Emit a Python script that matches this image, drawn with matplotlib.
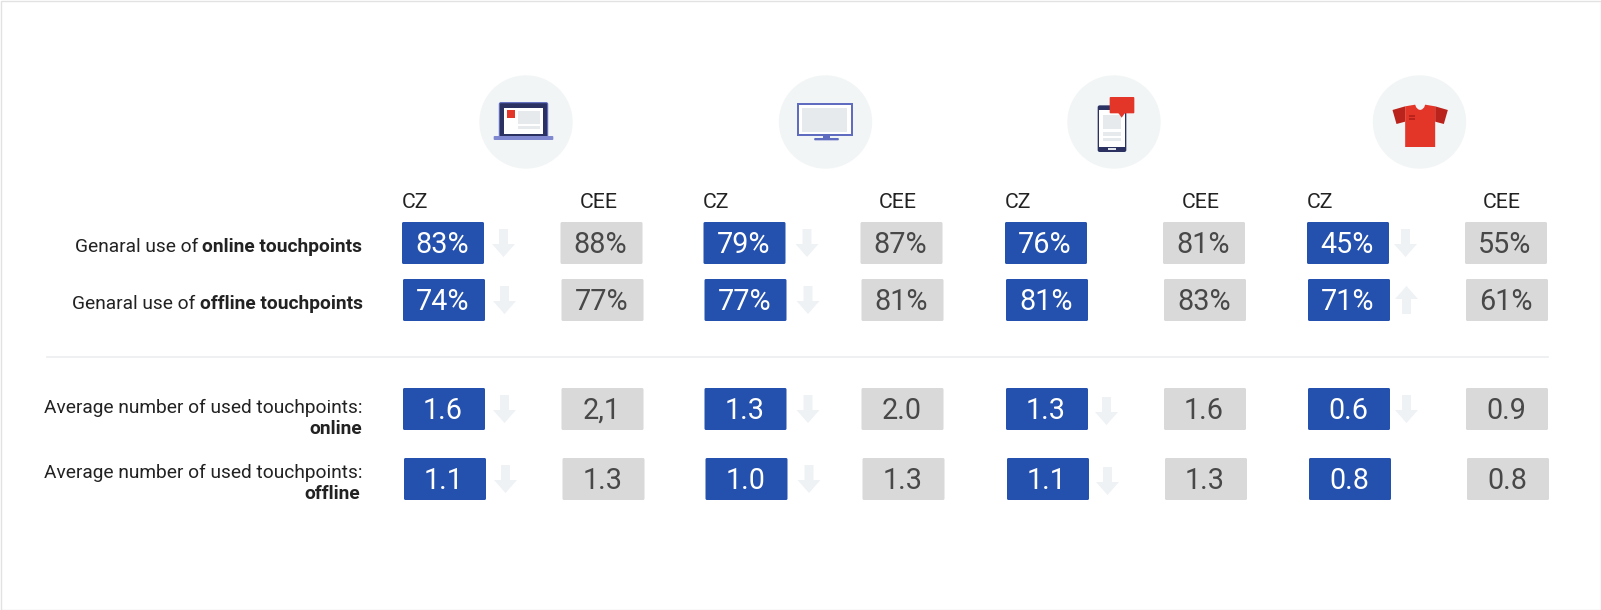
import matplotlib
matplotlib.use("Agg")
import matplotlib.pyplot as plt
from matplotlib.patches import Circle, FancyBboxPatch, Polygon, Rectangle

plt.rcParams['font.family'] = ['Roboto', 'DejaVu Sans']

# ---------- data ----------
groups = ["laptop", "tv", "mobile", "shirt"]
row_prefix = ["Genaral use of ", "Genaral use of ",
              "Average number of used touchpoints:", "Average number of used touchpoints:"]
row_bold = ["online touchpoints", "offline touchpoints", "online", "offline"]
cz_labels = [
    ["83%", "79%", "76%", "45%"],
    ["74%", "77%", "81%", "71%"],
    ["1.6", "1.3", "1.3", "0.6"],
    ["1.1", "1.0", "1.1", "0.8"],
]
cee_labels = [
    ["88%", "87%", "81%", "55%"],
    ["77%", "81%", "83%", "61%"],
    ["2,1", "2.0", "1.6", "0.9"],
    ["1.3", "1.3", "1.3", "0.8"],
]
# trend of CZ against CEE: -1 down, +1 up, 0 none
trend = [
    [-1, -1, 0, -1],
    [-1, -1, 0, 1],
    [-1, -1, -1, -1],
    [-1, -1, -1, 0],
]

# ---------- layout (pixels) ----------
W, H = 1601, 610
BLUE, GREY, ARROW = "#2450ae", "#d9d9d9", "#eef2f5"
NAVY, RED, DRED, LG = "#2b3262", "#e33629", "#b9231c", "#e6eaed"
cz_x = [402, 703.5, 1005, 1307]
cee_x = [560.5, 860.5, 1163, 1465]
cz_head = [402, 703, 1005, 1307]
cee_head = [580, 879, 1182, 1483]
arrow_dx = [90, 92, 89, 87]
row_top = [222, 279, 388, 458]
row_dx = [0, 1, 1, 2]
icon_cx = [526, 825.5, 1114, 1419.5]
ICON_CY = 122
BW, BH = 82, 42

fig = plt.figure(figsize=(W / 100, H / 100), dpi=100)
ax = fig.add_axes([0, 0, 1, 1])
ax.set_xlim(0, W)
ax.set_ylim(H, 0)
ax.axis("off")

ax.add_patch(Rectangle((0.5, 0.5), W - 1, H - 1, fc="white", ec="#e2e2e2", lw=1))
ax.plot([47, 1548], [356.5, 356.5], color="#eceeef", lw=1.2)


def rect(cx, x0, x1, y0, y1, color, ocx, round_=0.0, ec="none"):
    """Rectangle in 3x zoom units around an icon centre."""
    X0, X1 = cx + (x0 - ocx) / 3, cx + (x1 - ocx) / 3
    Y0, Y1 = ICON_CY + (y0 - 186) / 3, ICON_CY + (y1 - 186) / 3
    if round_:
        ax.add_patch(FancyBboxPatch((X0 + round_, Y0 + round_), X1 - X0 - 2 * round_,
                                    Y1 - Y0 - 2 * round_,
                                    boxstyle=f"round,pad={round_},rounding_size={round_}",
                                    fc=color, ec=ec, lw=0.8))
    else:
        ax.add_patch(Rectangle((X0, Y0), X1 - X0, Y1 - Y0, fc=color, ec="none"))


def poly(cx, pts, color, ocx):
    ax.add_patch(Polygon([(cx + (x - ocx) / 3, ICON_CY + (y - 186) / 3) for x, y in pts],
                         closed=True, fc=color, ec="none"))


def laptop(cx):
    o = 258
    rect(cx, 178, 323, 128, 232, NAVY, o, 1.5, ec="#5f6cc0")
    rect(cx, 193, 308, 143, 222, "white", o)
    rect(cx, 201, 225, 151, 173, RED, o)
    rect(cx, 234, 300, 152, 192, LG, o)
    rect(cx, 234, 300, 198, 208, LG, o)
    rect(cx, 161, 340, 228, 240, "#8088cf", o, 1)


def tv(cx):
    o = 1156
    rect(cx, 1071, 1238, 129, 228, "#5f6cc0", o)
    rect(cx, 1077, 1232, 135, 222, "white", o)
    rect(cx, 1086, 1221, 144, 215, LG, o)
    rect(cx, 1148, 1170, 228, 235, "#5f6cc0", o)
    rect(cx, 1122, 1196, 234, 241, "#5f6cc0", o, 1)


def mobile(cx):
    o = 252
    rect(cx, 203, 289, 136, 276, NAVY, o, 2)
    rect(cx, 207, 285, 151, 260, "white", o)
    rect(cx, 219, 273, 165, 207, LG, o)
    rect(cx, 219, 273, 216, 228, LG, o)
    rect(cx, 219, 273, 233, 243, LG, o)
    rect(cx, 234, 259, 264, 271, "#dfe3ea", o)
    rect(cx, 239, 313, 111, 160, RED, o, 1)
    poly(cx, [(265, 159), (285, 159), (275, 173)], RED, o)


def shirt(cx):
    o = 1168
    poly(cx, [(1087, 150), (1125, 139), (1125, 185), (1099, 192)], DRED, o)
    poly(cx, [(1253, 150), (1215, 139), (1215, 185), (1241, 192)], DRED, o)
    poly(cx, [(1125, 139), (1143, 136), (1155, 134), (1158, 142), (1164, 148), (1170, 150),
              (1176, 148), (1182, 142), (1185, 134), (1197, 136), (1215, 139),
              (1215, 261), (1125, 261)], RED, o)
    rect(cx, 1137, 1153, 165, 170, DRED, o)
    rect(cx, 1137, 1153, 174, 180, DRED, o)


draw_icon = {"laptop": laptop, "tv": tv, "mobile": mobile, "shirt": shirt}
for g, cx in zip(groups, icon_cx):
    ax.add_patch(Circle((cx, ICON_CY), 46.7, fc="#f2f5f6", ec="none"))
    draw_icon[g](cx)


def box(x, y, color):
    ax.add_patch(FancyBboxPatch((x + 1.5, y + 1.5), BW - 3, BH - 3,
                                boxstyle="round,pad=1.5,rounding_size=1.5", fc=color, ec="none"))


def arrow(x, y, up=False):
    # 23 wide, 28 tall
    pts = [(7, 0), (16, 0), (16, 15), (23, 15), (11.5, 28), (0, 15), (7, 15)]
    if up:
        pts = [(px, 28 - py) for px, py in pts]
    ax.add_patch(Polygon([(x + px, y + py) for px, py in pts], closed=True, fc=ARROW, ec="none"))


for c in range(4):
    ax.text(cz_head[c], 207.5, "CZ", fontsize=15.3, color="#222222", ha="left", va="baseline")
    ax.text(cee_head[c], 207.5, "CEE", fontsize=15.3, color="#222222", ha="left", va="baseline")

for r in range(4):
    top, dx = row_top[r], row_dx[r]
    for c in range(4):
        bx = cz_x[c] + dx
        box(bx, top, BLUE)
        ax.text(bx + BW / 2 - 1, top + 31, cz_labels[r][c], fontsize=20.7, color="white",
                ha="center", va="baseline")
        gx = cee_x[c] + dx
        box(gx, top, GREY)
        ax.text(gx + BW / 2 - 1, top + 31, cee_labels[r][c], fontsize=20.7, color="#484848",
                ha="center", va="baseline")
        t = trend[r][c]
        if t:
            extra = 2 if (c == 2) else 0
            arrow(bx + arrow_dx[c], top + 7 + extra, up=t > 0)

# row labels
fig.canvas.draw()
rend = fig.canvas.get_renderer()
TXT = "#222222"
FS = 13.75
for r, base in [(0, 252), (1, 309)]:
    b = ax.text(362.5, base, row_bold[r], fontsize=FS, fontweight="bold", color=TXT,
                ha="right", va="baseline")
    w = b.get_window_extent(rend).width
    ax.text(362.5 - w - 4, base, row_prefix[r].rstrip(), fontsize=FS, color=TXT,
            ha="right", va="baseline")
for r, b1, b2, xb in [(2, 413, 434, 362.5), (3, 478, 499, 360)]:
    ax.text(362.5, b1, row_prefix[r], fontsize=FS, color=TXT, ha="right", va="baseline")
    ax.text(xb, b2, row_bold[r], fontsize=FS, fontweight="bold", color=TXT, ha="right", va="baseline")

fig.savefig("out.png", dpi=100, facecolor="white")
